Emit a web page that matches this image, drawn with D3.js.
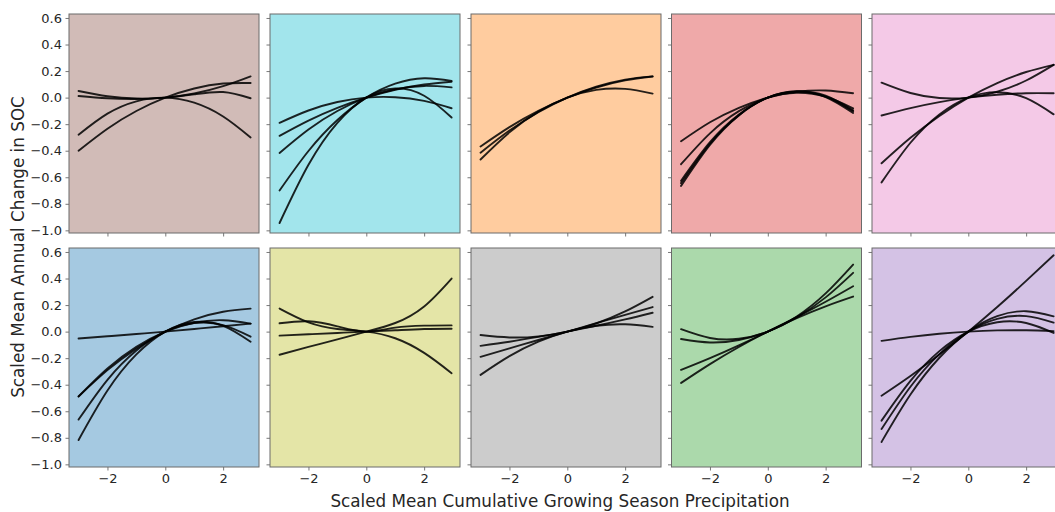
<!DOCTYPE html>
<html>
<head>
<meta charset="utf-8">
<script src="https://cdn.jsdelivr.net/npm/d3@7"></script>
<style>
  html, body { margin: 0; padding: 0; background: #fff; }
  svg { display: block; font-family: "DejaVu Sans", sans-serif; }
</style>
</head>
<body>
<svg id="chart" width="1055" height="512"></svg>
<script>
// Precipitation values (scaled) at which each response curve is sampled
const xGrid = [-3, -2, -1, 0, 1, 2, 2.95];

// Panel background colours (drawn at 40% opacity)
const panelColors = [
  "#8c564b", "#17becf", "#ff7f0e", "#d62728", "#e377c2",
  "#1f77b4", "#bcbd22", "#7f7f7f", "#2ca02c", "#9467bd"
];

// Response curves per panel: scaled mean annual change in SOC at each xGrid value
const brownCurves = [
  [-0.40, -0.234, -0.101, 0, 0.069, 0.106, 0.11],
  [0.05, 0.01, -0.007, 0, 0.031, 0.086, 0.16],
  [-0.28, -0.121, -0.028, 0, -0.038, -0.142, -0.30],
  [0.012, -0.005, -0.01, 0, 0.025, 0.042, -0.005]
];
const cyanCurves = [
  [-0.19, -0.097, -0.033, 0, 0.003, -0.025, -0.08],
  [-0.945, -0.506, -0.19, 0, 0.069, 0.014, -0.15],
  [-0.70, -0.402, -0.169, 0, 0.105, 0.146, 0.126],
  [-0.288, -0.173, -0.077, 0, 0.059, 0.099, 0.12],
  [-0.417, -0.24, -0.101, 0, 0.063, 0.088, 0.077]
];
const orangeCurves = [
  [-0.368, -0.222, -0.10, 0, 0.076, 0.13, 0.159],
  [-0.415, -0.248, -0.11, 0, 0.082, 0.136, 0.16],
  [-0.466, -0.262, -0.106, 0, 0.058, 0.066, 0.03]
];
const redCurves = [
  [-0.329, -0.186, -0.077, 0, 0.044, 0.054, 0.033],
  [-0.502, -0.269, -0.102, 0, 0.036, 0.007, -0.081],
  [-0.627, -0.336, -0.127, 0, 0.045, 0.008, -0.103],
  [-0.665, -0.356, -0.134, 0, 0.046, 0.004, -0.116],
  [-0.644, -0.346, -0.132, 0, 0.048, 0.014, -0.096]
];
const pinkCurves = [
  [0.113, 0.035, -0.003, 0, 0.044, 0.129, 0.247],
  [-0.495, -0.303, -0.138, 0, 0.11, 0.193, 0.247],
  [-0.639, -0.34, -0.127, 0, 0.041, -0.004, -0.126],
  [-0.135, -0.079, -0.034, 0, 0.022, 0.033, 0.033]
];
const blueCurves = [
  [-0.052, -0.035, -0.018, 0, 0.02, 0.04, 0.06],
  [-0.488, -0.29, -0.128, 0, 0.093, 0.15, 0.173],
  [-0.489, -0.278, -0.115, 0, 0.067, 0.086, 0.06],
  [-0.663, -0.363, -0.142, 0, 0.064, 0.049, -0.038],
  [-0.817, -0.444, -0.172, 0, 0.072, 0.044, -0.076]
];
const oliveCurves = [
  [-0.174, -0.115, -0.058, 0, 0.065, 0.19, 0.40],
  [0.174, 0.07, 0.02, 0, -0.05, -0.16, -0.313],
  [0.063, 0.078, 0.04, 0, 0.03, 0.045, 0.047],
  [-0.03, -0.02, -0.01, 0, 0.01, 0.02, 0.022]
];
const grayCurves = [
  [-0.326, -0.185, -0.076, 0, 0.044, 0.055, 0.036],
  [-0.026, -0.044, -0.036, 0, 0.062, 0.152, 0.262],
  [-0.107, -0.076, -0.04, 0, 0.044, 0.092, 0.142],
  [-0.19, -0.126, -0.063, 0, 0.063, 0.126, 0.185]
];
const greenCurves = [
  [0.018, -0.048, -0.054, 0, 0.114, 0.288, 0.505],
  [-0.056, -0.082, -0.063, 0, 0.107, 0.258, 0.443],
  [-0.288, -0.199, -0.103, 0, 0.109, 0.225, 0.342],
  [-0.387, -0.245, -0.116, 0, 0.102, 0.191, 0.264]
];
const purpleCurves = [
  [-0.483, -0.334, -0.173, 0, 0.185, 0.382, 0.575],
  [-0.07, -0.04, -0.016, 0, 0.009, 0.01, 0.004],
  [-0.831, -0.474, -0.197, 0, 0.117, 0.154, 0.115],
  [-0.734, -0.415, -0.17, 0, 0.096, 0.117, 0.068],
  [-0.671, -0.371, -0.147, 0, 0.071, 0.065, -0.01]
];

const panelCurves = [
  brownCurves, cyanCurves, orangeCurves, redCurves, pinkCurves,
  blueCurves, oliveCurves, grayCurves, greenCurves, purpleCurves
];

// Axis ticks
const xTicks = [-2, 0, 2];
const yTicks = [0.6, 0.4, 0.2, 0.0, -0.2, -0.4, -0.6, -0.8, -1.0];

const xLabel = "Scaled Mean Cumulative Growing Season Precipitation";
const yLabel = "Scaled Mean Annual Change in SOC";

// ---- layout ----
const svg = d3.select("#chart");
const panelW = 190, panelH = 219;
const colLefts = [69, 270, 471, 671.5, 872];
const rowTops = [14, 248];
const minus = s => s.replace("-", "\u2212");

const x = d3.scaleLinear().domain([-3.33, 3.24]).range([0, panelW]);
const y = d3.scaleLinear().domain([-1.02, 0.63]).range([panelH, 0]);

const line = d3.line()
  .x((d, i) => x(xGrid[i]))
  .y(d => y(d))
  .curve(d3.curveNatural);

panelCurves.forEach((curves, p) => {
  const row = Math.floor(p / 5), col = p % 5;
  const g = svg.append("g")
    .attr("transform", `translate(${colLefts[col]},${rowTops[row]})`);

  g.append("rect")
    .attr("width", panelW).attr("height", panelH)
    .attr("fill", panelColors[p]).attr("fill-opacity", 0.4);

  const clipId = "clip" + p;
  g.append("clipPath").attr("id", clipId)
    .append("rect").attr("width", panelW).attr("height", panelH);

  g.append("g").attr("clip-path", `url(#${clipId})`)
    .selectAll("path").data(curves).join("path")
    .attr("d", line)
    .attr("fill", "none")
    .attr("stroke", "#000")
    .attr("stroke-opacity", 0.85)
    .attr("stroke-width", 1.9)
    .attr("stroke-linecap", "round");

  // y axis
  const yAxis = d3.axisLeft(y).tickValues(yTicks).tickSize(3.5).tickPadding(3.5)
    .tickFormat(col === 0 ? (d => minus(d3.format(".1f")(d))) : () => "");
  const ya = g.append("g").call(yAxis);

  // x axis
  const xAxis = d3.axisBottom(x).tickValues(xTicks).tickSize(3.5).tickPadding(3.5)
    .tickFormat(row === 1 ? (d => minus(d3.format("d")(d))) : () => "");
  const xa = g.append("g").attr("transform", `translate(0,${panelH})`).call(xAxis);

  [ya, xa].forEach(a => {
    a.select(".domain").remove();
    a.selectAll(".tick line").attr("stroke", "#555").attr("stroke-width", 0.8);
    a.selectAll(".tick text").attr("fill", "#262626").attr("font-size", 13)
      .attr("font-family", "DejaVu Sans, sans-serif");
  });

  // frame
  g.append("rect")
    .attr("width", panelW).attr("height", panelH)
    .attr("fill", "none").attr("stroke", "#6b6b6b").attr("stroke-width", 1);
});

// axis titles
svg.append("text")
  .attr("x", 560).attr("y", 507)
  .attr("text-anchor", "middle")
  .attr("font-size", 16.8).attr("fill", "#262626")
  .text(xLabel);

svg.append("text")
  .attr("transform", "translate(24,247) rotate(-90)")
  .attr("text-anchor", "middle")
  .attr("font-size", 16.8).attr("fill", "#262626")
  .text(yLabel);
</script>
</body>
</html>
